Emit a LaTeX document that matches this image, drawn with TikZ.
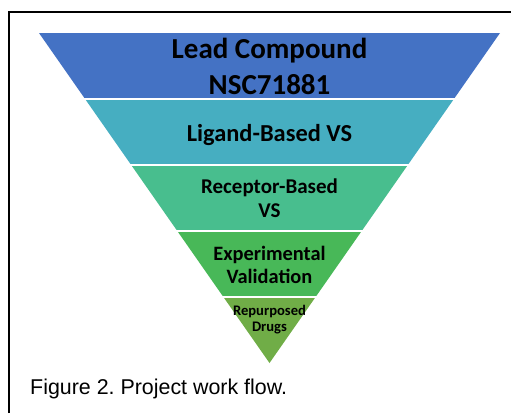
\documentclass[tikz,border=0pt]{standalone}
\usepackage{fontspec}
\setmainfont{Carlito}
\newfontfamily\captionfont{Liberation Sans}
\usepackage{xcolor}
\usepackage{tikz}
\usetikzlibrary{calc}
\definecolor{funnelblue}{RGB}{68, 114, 196}
\definecolor{funnelteal}{RGB}{70, 174, 193}
\definecolor{funnelsea}{RGB}{72, 190, 142}
\definecolor{funnelgreen}{RGB}{72, 184, 88}
\definecolor{funnelolive}{RGB}{112, 173, 71}
\frenchspacing

\begin{document}
\begin{tikzpicture}[x=1pt, y=-1pt,
        bandtext/.style={align=center, text=black, inner sep=0pt, anchor=base},
        gapline/.style={draw=white, line width=1.2pt}
    ]
        \useasboundingbox (0,0) rectangle (511,413);

        % Frame
        \draw[line width=2pt] (9,413) -- (9,12) -- (511,12);

        % Funnel bands
        \foreach \i/\col in {0/funnelblue,1/funnelteal,2/funnelsea,3/funnelgreen,4/funnelolive} {
            \pgfmathsetmacro{\ya}{33+66*\i}
            \pgfmathsetmacro{\yb}{33+66*(\i+1)}
            \pgfmathsetmacro{\wa}{0.698485*(363-\ya)}
            \pgfmathsetmacro{\wb}{0.698485*(363-\yb)}
            \fill[\col] (269.5-\wa,\ya) -- (269.5+\wa,\ya) -- (269.5+\wb,\yb) -- (269.5-\wb,\yb) -- cycle;
        }
        \foreach \y in {99,165,231,297} {
            \draw[gapline] (30,\y) -- (510,\y);
        }

        % Band labels (base = last line)
        \node[bandtext, font=\bfseries\fontsize{29}{35.5}\selectfont] (lead) at (269.5,94.3) {Lead Compound\\NSC71881};
        \node[bandtext, font=\bfseries\fontsize{24.4}{29}\selectfont] (ligand) at (269.5,141.5) {Ligand-Based VS};
        \node[bandtext, font=\bfseries\fontsize{21}{24}\selectfont] (receptor) at (269.5,217) {Receptor-Based\\VS};
        \node[bandtext, font=\bfseries\fontsize{20.4}{23.5}\selectfont] (valid) at (269.5,283.5) {Experimental\\Validation};
        \node[bandtext, font=\bfseries\fontsize{14.6}{16}\selectfont] (drugs) at (269.5,331) {Repurposed\\Drugs};

        % Caption
        \node[anchor=base west, inner sep=0pt, font=\captionfont\fontsize{21.4}{25}\selectfont] (caption) at (30,394) {Figure 2. Project work flow.};
\end{tikzpicture}
\end{document}
